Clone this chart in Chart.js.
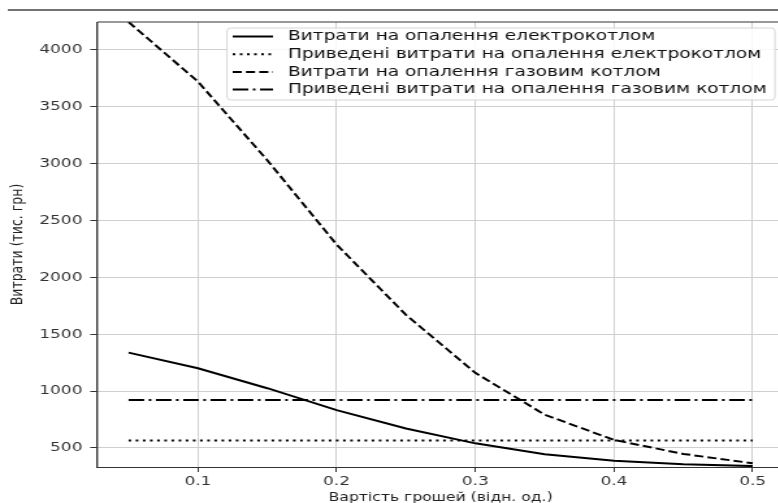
<!DOCTYPE html>
<html>
<head>
<meta charset="utf-8">
<script src="https://cdn.jsdelivr.net/npm/chart.js@4/dist/chart.umd.min.js"></script>
<style>
  html, body { margin: 0; padding: 0; background: #fff; overflow: hidden; }
  #wrap { width: 606px; height: 503px; transform: scaleX(1.3); transform-origin: 0 0; }
</style>
</head>
<body>
<div id="wrap"><canvas id="costChart" width="606" height="503"></canvas></div>
<script>
const moneyValue = [0.05, 0.1, 0.15, 0.2, 0.25, 0.3, 0.35, 0.4, 0.45, 0.5];
const electricCost = [1338, 1200, 1025, 832, 670, 540, 444, 388, 356, 340];
const electricReduced = [565, 565, 565, 565, 565, 565, 565, 565, 565, 565];
const gasCost = [4245, 3721, 3030, 2288, 1670, 1160, 792, 570, 447, 365];
const gasReduced = [922, 922, 922, 922, 922, 922, 922, 922, 922, 922];

const seriesNames = [
    "Витрати на опалення електрокотлом",
    "Приведені витрати на опалення електрокотлом",
    "Витрати на опалення газовим котлом",
    "Приведені витрати на опалення газовим котлом"
];
const xTicks = [0.1, 0.2, 0.3, 0.4, 0.5];
const yTicks = [500, 1000, 1500, 2000, 2500, 3000, 3500, 4000];

const font = "DejaVu Sans";

function points(values) {
    return moneyValue.map((x, i) => ({ x: x, y: values[i] }));
}

// frame, page rule and legend drawn on top
const extras = {
    id: "extras",
    afterDraw(chart) {
        const ctx = chart.ctx;
        const a = chart.chartArea;
        ctx.save();
        ctx.strokeStyle = "#444";
        ctx.lineWidth = 1.5;
        ctx.beginPath();
        ctx.moveTo(6, 10);
        ctx.lineTo(chart.width, 10);
        ctx.stroke();

        ctx.strokeStyle = "#333";
        ctx.lineWidth = 1;
        ctx.beginPath();
        ctx.moveTo(a.left, a.bottom);
        ctx.lineTo(a.left, a.top);
        ctx.lineTo(a.right, a.top);
        ctx.stroke();

        // legend
        const lx = 174.6, ly = 28, lw = 421.5, lh = 72;
        ctx.beginPath();
        ctx.roundRect(lx, ly, lw, lh, 3);
        ctx.fillStyle = "rgba(255,255,255,0.85)";
        ctx.fill();
        ctx.strokeStyle = "#d5d5d5";
        ctx.lineWidth = 1;
        ctx.stroke();

        ctx.font = "14.3px '" + font + "'";
        ctx.textBaseline = "middle";
        chart.data.datasets.forEach((ds, i) => {
            const y = 36.5 + i * 17.7;
            ctx.beginPath();
            ctx.setLineDash(ds.borderDash || []);
            ctx.strokeStyle = ds.borderColor;
            ctx.lineWidth = ds.borderWidth;
            ctx.moveTo(179, y);
            ctx.lineTo(210, y);
            ctx.stroke();
            ctx.setLineDash([]);
            ctx.fillStyle = "#111";
            ctx.fillText(ds.label, 221.5, y);
        });
        ctx.restore();
    }
};

const ctx = document.getElementById("costChart").getContext("2d");

new Chart(ctx, {
    type: "line",
    data: {
        datasets: [
            { label: seriesNames[0], data: points(electricCost), borderDash: [] },
            { label: seriesNames[1], data: points(electricReduced), borderDash: [2, 3.5] },
            { label: seriesNames[2], data: points(gasCost), borderDash: [7, 3.2] },
            { label: seriesNames[3], data: points(gasReduced), borderDash: [12, 3.5, 2, 3.5] }
        ].map(ds => Object.assign(ds, {
            borderColor: "#000",
            borderWidth: 2,
            pointRadius: 0,
            tension: 0,
            fill: false
        }))
    },
    options: {
        responsive: false,
        animation: false,
        devicePixelRatio: 1,
        layout: { padding: { top: 22, right: 3, left: 0, bottom: 0 } },
        plugins: {
            legend: { display: false },
            tooltip: { enabled: false }
        },
        scales: {
            x: {
                type: "linear",
                min: 0.0275,
                max: 0.5225,
                afterBuildTicks: s => { s.ticks = xTicks.map(v => ({ value: v })); },
                afterFit: s => { s.height = 36; },
                grid: { color: "#cfcfcf", tickColor: "#333", tickLength: 5, lineWidth: 1 },
                border: { color: "#333", width: 1 },
                ticks: {
                    color: "#333",
                    padding: 2,
                    maxRotation: 0,
                    font: { family: font, size: 13 },
                    callback: v => String(v)
                },
                title: {
                    display: true,
                    text: "Вартість грошей (відн. од.)",
                    color: "#222",
                    padding: { top: 0, bottom: -2 },
                    font: { family: font, size: 12 }
                }
            },
            y: {
                type: "linear",
                min: 332,
                max: 4245,
                afterBuildTicks: s => { s.ticks = yTicks.map(v => ({ value: v })); },
                afterFit: s => { s.width = 74.9; },
                grid: { color: "#cfcfcf", tickColor: "#333", tickLength: 5.5, lineWidth: 1 },
                border: { color: "#333", width: 1 },
                ticks: {
                    color: "#333",
                    padding: 6,
                    font: { family: font, size: 13 },
                    callback: v => String(v)
                },
                title: {
                    display: true,
                    text: "Витрати (тис. грн)",
                    color: "#222",
                    padding: { top: 6, bottom: 0 },
                    font: { family: font, size: 12.5 }
                }
            }
        }
    },
    plugins: [extras]
});
</script>
</body>
</html>
